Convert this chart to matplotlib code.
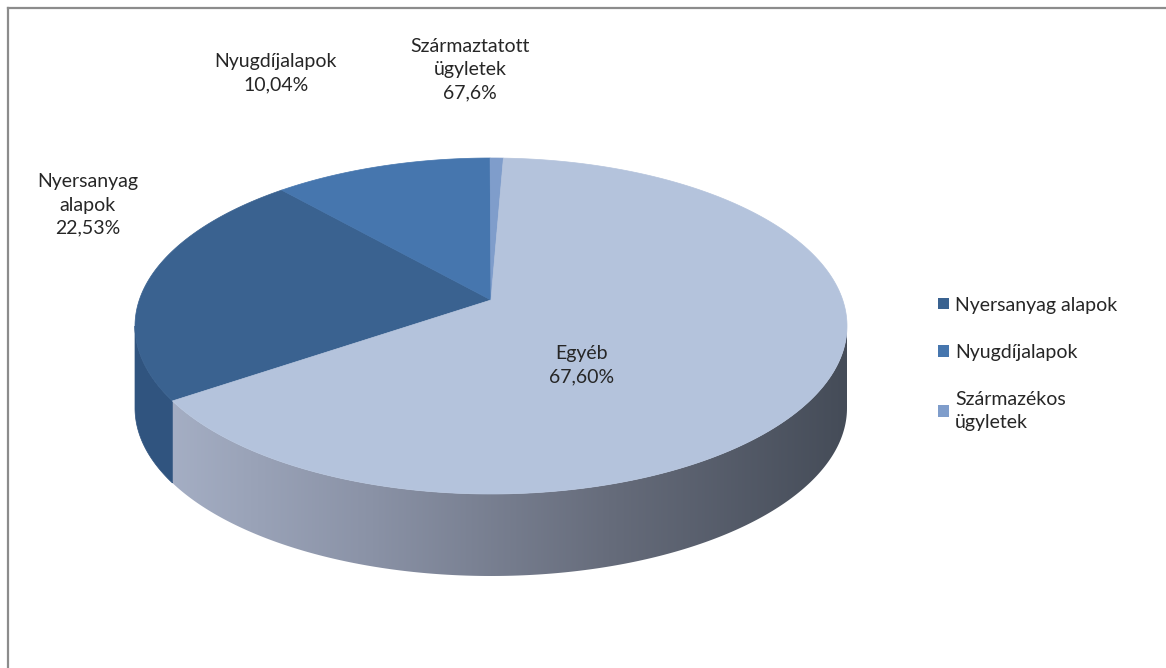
import numpy as np
import matplotlib
matplotlib.use('Agg')
import matplotlib.pyplot as plt
from matplotlib.patches import Polygon, Rectangle
from matplotlib.lines import Line2D
from matplotlib.colors import LinearSegmentedColormap

# data (clockwise order, as in the legend)
categories = ['Nyersanyag alapok', 'Nyugdíjalapok', 'Származékos ügyletek', 'Egyéb']
shares = [22.53, 10.04, 0.6, 67.60]
legend_labels = ['Nyersanyag alapok', 'Nyugdíjalapok', 'Származékos\nügyletek']
data_labels = ['Nyersanyag\nalapok\n22,53%', 'Nyugdíjalapok\n10,04%',
               'Származtatott\nügyletek\n67,6%', 'Egyéb\n67,60%']

top_colors = ['#3a6290', '#4676ae', '#7f9dcb', '#b4c3dc']
side_colors = ['#30547f', '#3a639a', '#6c88b5', None]  # None -> gradient

plt.rcParams['font.family'] = ['Lato', 'DejaVu Sans']

W, H = 1166, 668
fig = plt.figure(figsize=(W / 100, H / 100), dpi=100)
ax = fig.add_axes([0, 0, 1, 1])
ax.set_xlim(0, W)
ax.set_ylim(H, 0)
ax.axis('off')

# pie geometry in pixels
cx, cy, rx, ry, depth = 491, 326, 356, 168, 82
apex = (491, 300)
start = 206.5  # math angle where the first slice begins, going clockwise


def rim(angles):
    a = np.radians(angles)
    return cx + rx * np.cos(a), cy - ry * np.sin(a)


vals = np.array(shares)
spans = vals / vals.sum() * 360
ends = start - np.cumsum(spans)
begins = ends + spans

side_cmap = LinearSegmentedColormap.from_list(
    'side', ['#a9b3c9', '#8a92a6', '#666c7b', '#454c58'])

# sides first
for i in range(len(vals)):
    a0, a1 = begins[i], ends[i]
    for k in (-1, 0):
        lo = max(a1, 180 + 360 * k)
        hi = min(a0, 360 + 360 * k)
        if hi <= lo:
            continue
        t = np.linspace(lo, hi, 200)
        xt, yt = rim(t)
        pts = np.column_stack([np.r_[xt, xt[::-1]], np.r_[yt, yt[::-1] + depth]])
        if side_colors[i] is None:
            poly = Polygon(pts, closed=True, facecolor='none', edgecolor='none')
            ax.add_patch(poly)
            grad = np.linspace(0, 1, 256).reshape(1, -1)
            x0, x1 = cx - rx, cx + rx
            im = ax.imshow(grad, cmap=side_cmap, aspect='auto',
                           extent=[x0, x1, pts[:, 1].max(), pts[:, 1].min()],
                           interpolation='bilinear')
            im.set_clip_path(poly)
        else:
            ax.add_patch(Polygon(pts, closed=True, facecolor=side_colors[i],
                                 edgecolor=side_colors[i], lw=0.5))

# top faces
for i in range(len(vals)):
    t = np.linspace(begins[i], ends[i], 300)
    xt, yt = rim(t)
    pts = np.column_stack([np.r_[apex[0], xt], np.r_[apex[1], yt]])
    ax.add_patch(Polygon(pts, closed=True, facecolor=top_colors[i],
                         edgecolor=top_colors[i], lw=0.5))

# data labels
label_pos = [(88, 205), (276, 73), (470, 70), (582, 365)]
for txt, (x, y) in zip(data_labels, label_pos):
    ax.text(x, y, txt, ha='center', va='center', fontsize=14,
            color='#262626', linespacing=1.45)

# legend
handles = [Rectangle((0, 0), 1, 1, facecolor=c, edgecolor='none')
           for c in top_colors[:3]]
leg = fig.legend(handles, legend_labels, loc='upper left',
                 bbox_to_anchor=(921 / W, 1 - 279 / H), frameon=False,
                 fontsize=14, handlelength=0.55, handleheight=0.55,
                 handletextpad=0.3, labelspacing=1.55, labelcolor='#262626')
for t in leg.get_texts():
    t.set_linespacing(1.45)

# frame
fig.add_artist(Line2D([8 / W, 1], [1 - 8 / H, 1 - 8 / H], color='#8c8c8c', lw=1.6))
fig.add_artist(Line2D([8 / W, 8 / W], [0, 1 - 8 / H], color='#8c8c8c', lw=1.6))

fig.savefig('out.png', dpi=100)
